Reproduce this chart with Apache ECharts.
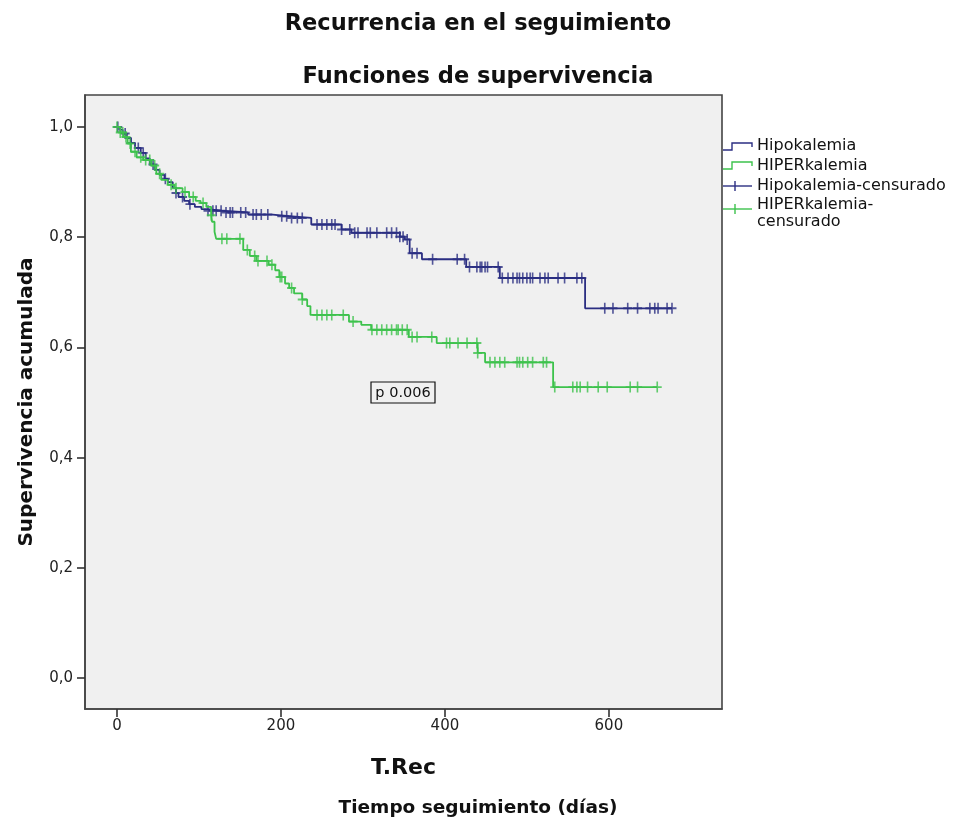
<!DOCTYPE html>
<html><head><meta charset="utf-8">
<script src="https://cdn.jsdelivr.net/npm/echarts@6/dist/echarts.min.js"></script>
<style>html,body{margin:0;padding:0;background:#fff}#c{width:956px;height:823px}</style>
</head><body><div id="c"></div>
<script>
// Kaplan-Meier step points [days, cumulative survival]
const hipoCurve = [[0,1],[3,0.995],[7,0.988],[12,0.98],[17,0.971],[22,0.962],[29,0.953],[35,0.943],[40,0.932],[46,0.922],[52,0.913],[58,0.906],[62,0.9],[68,0.89],[72,0.88],[75,0.873],[82,0.866],[88,0.86],[95,0.855],[103,0.851],[110,0.848],[128,0.845],[160,0.841],[190,0.838],[210,0.835],[237,0.823],[274,0.814],[286,0.808],[345,0.801],[351,0.796],[357,0.771],[372,0.76],[426,0.746],[467,0.726],[571,0.671],[677,0.671]];
const hiperCurve = [[0,1],[4,0.99],[8,0.982],[13,0.97],[17,0.955],[24,0.945],[32,0.94],[42,0.93],[48,0.915],[54,0.904],[62,0.895],[70,0.889],[80,0.882],[88,0.873],[96,0.866],[102,0.862],[109,0.855],[115,0.84],[116,0.828],[119,0.81],[121,0.797],[154,0.777],[162,0.766],[170,0.757],[185,0.75],[193,0.74],[198,0.728],[205,0.716],[210,0.708],[216,0.698],[226,0.687],[232,0.675],[236,0.659],[283,0.647],[298,0.641],[310,0.632],[356,0.619],[390,0.608],[440,0.59],[449,0.573],[532,0.528],[659,0.528]];
// censored times (days)
const hipoCensored = [1,10,17,26,32,44,59,72,80,89,111,117,121,127,133,138,141,151,157,166,170,176,184,201,207,213,220,226,244,250,256,262,266,274,284,290,294,305,309,317,329,335,341,345,349,354,360,366,385,415,424,430,439,443,445,449,452,465,470,477,483,488,491,495,500,504,507,516,522,526,538,546,561,567,595,605,623,635,650,656,660,671,677];
const hiperCensored = [0,4,7,11,16,22,29,35,40,46,52,66,72,83,93,105,115,128,134,150,159,168,172,183,189,199,201,213,226,244,250,256,262,276,288,311,317,323,329,335,341,343,348,354,360,366,384,402,406,416,427,439,440,455,461,467,473,488,491,495,501,507,520,524,534,556,561,565,574,587,598,626,635,659];
const xTicks = [0,200,400,600];
const yTicks = [0,0.2,0.4,0.6,0.8,1.0];
const seriesNames = ['Hipokalemia','HIPERkalemia','Hipokalemia-censurado','HIPERkalemia-censurado'];
const pValueText = 'p 0.006';

const BLUE = '#2b2e82', GREEN = '#3dc24c';
const FONT = 'DejaVu Sans';
function survAt(curve, t){ let s = curve[0][1]; for (const p of curve){ if (p[0] <= t) s = p[1]; } return s; }
const cross = 'path://M4.1,0h1.8v4.1h4.1v1.8h-4.1v4.1h-1.8v-4.1h-4.1v-1.8h4.1z';
const LF = '16px "DejaVu Sans"';

const chart = echarts.init(document.getElementById('c'), null, {renderer:'canvas'});
const opt = {
  animation:false,
  backgroundColor:'#fff',
  title:[
    {text:'Recurrencia en el seguimiento', left:'center', top:8, textStyle:{fontFamily:FONT,fontWeight:'bold',fontSize:22.5,color:'#111'}},
    {text:'Funciones de supervivencia', left:'center', top:61, textStyle:{fontFamily:FONT,fontWeight:'bold',fontSize:22.5,color:'#111'}},
    {text:'Tiempo seguimiento (días)', left:'center', top:794, textStyle:{fontFamily:FONT,fontWeight:'bold',fontSize:18.5,color:'#111'}}
  ],
  grid:{left:85, top:95, right:234, bottom:114, show:true, backgroundColor:'#f0f0f0', borderColor:'#444', borderWidth:1.6},
  xAxis:{type:'value', min:-39, max:738,
    name:'T.Rec', nameLocation:'middle', nameGap:48,
    nameTextStyle:{fontFamily:FONT,fontWeight:'bold',fontSize:22,color:'#111'},
    axisLine:{show:true,onZero:false,lineStyle:{color:'#444',width:1.6}},
    axisTick:{show:true,length:8,lineStyle:{color:'#333',width:1.6},customValues:xTicks},
    axisLabel:{fontFamily:FONT,fontSize:15,color:'#222',margin:10,customValues:xTicks},
    splitLine:{show:false}},
  yAxis:{type:'value', min:-0.056, max:1.058,
    name:'Supervivencia acumulada', nameLocation:'middle', nameGap:48,
    nameTextStyle:{fontFamily:FONT,fontWeight:'bold',fontSize:20,color:'#111'},
    axisLine:{show:true,onZero:false,lineStyle:{color:'#444',width:1.6}},
    axisTick:{show:true,length:8,lineStyle:{color:'#333',width:1.6},customValues:yTicks},
    axisLabel:{fontFamily:FONT,fontSize:15,color:'#222',margin:12,customValues:yTicks,formatter:v=>v.toFixed(1).replace('.',',')},
    splitLine:{show:false}},
  series:[
    {name:seriesNames[0], type:'line', step:'end', showSymbol:false, data:hipoCurve, lineStyle:{color:BLUE,width:1.8}, itemStyle:{color:BLUE}, z:2},
    {name:seriesNames[2], type:'scatter', symbol:cross, symbolSize:[9,11], data:hipoCensored.map(t=>[t,survAt(hipoCurve,t)]), itemStyle:{color:BLUE}, z:3},
    {name:seriesNames[1], type:'line', step:'end', showSymbol:false, data:hiperCurve, lineStyle:{color:GREEN,width:1.8}, itemStyle:{color:GREEN}, z:4},
    {name:seriesNames[3], type:'scatter', symbol:cross, symbolSize:[9,11], data:hiperCensored.map(t=>[t,survAt(hiperCurve,t)]), itemStyle:{color:GREEN}, z:5}
  ],
  graphic:[
    {type:'rect', shape:{x:371,y:382,width:64,height:21}, style:{fill:'#f0f0f0',stroke:'#111',lineWidth:1.2}, z:10},
    {type:'text', x:403, y:393, style:{text:pValueText, fill:'#111', font:'14.5px "DejaVu Sans"', align:'center', verticalAlign:'middle'}, z:11},
    // legend
    {type:'polyline', shape:{points:[[723,150],[732,150],[732,143],[752,143],[752,147]]}, style:{stroke:BLUE,lineWidth:1.4,fill:null}},
    {type:'text', x:757, y:146, style:{text:seriesNames[0], fill:'#111', font:LF, verticalAlign:'middle'}},
    {type:'polyline', shape:{points:[[723,169],[732,169],[732,162],[752,162],[752,166]]}, style:{stroke:GREEN,lineWidth:1.4,fill:null}},
    {type:'text', x:757, y:166, style:{text:seriesNames[1], fill:'#111', font:LF, verticalAlign:'middle'}},
    {type:'line', shape:{x1:723,y1:186,x2:752,y2:186}, style:{stroke:BLUE,lineWidth:1.4}},
    {type:'line', shape:{x1:735,y1:181,x2:735,y2:191}, style:{stroke:BLUE,lineWidth:1.4}},
    {type:'text', x:757, y:186, style:{text:seriesNames[2], fill:'#111', font:LF, verticalAlign:'middle'}},
    {type:'line', shape:{x1:723,y1:209,x2:752,y2:209}, style:{stroke:GREEN,lineWidth:1.4}},
    {type:'line', shape:{x1:735,y1:204,x2:735,y2:214}, style:{stroke:GREEN,lineWidth:1.4}},
    {type:'text', x:757, y:213, style:{text:'HIPERkalemia-\ncensurado', fill:'#111', font:LF, verticalAlign:'middle', lineHeight:17}}
  ]
};
chart.setOption(opt);
</script>
</body></html>
